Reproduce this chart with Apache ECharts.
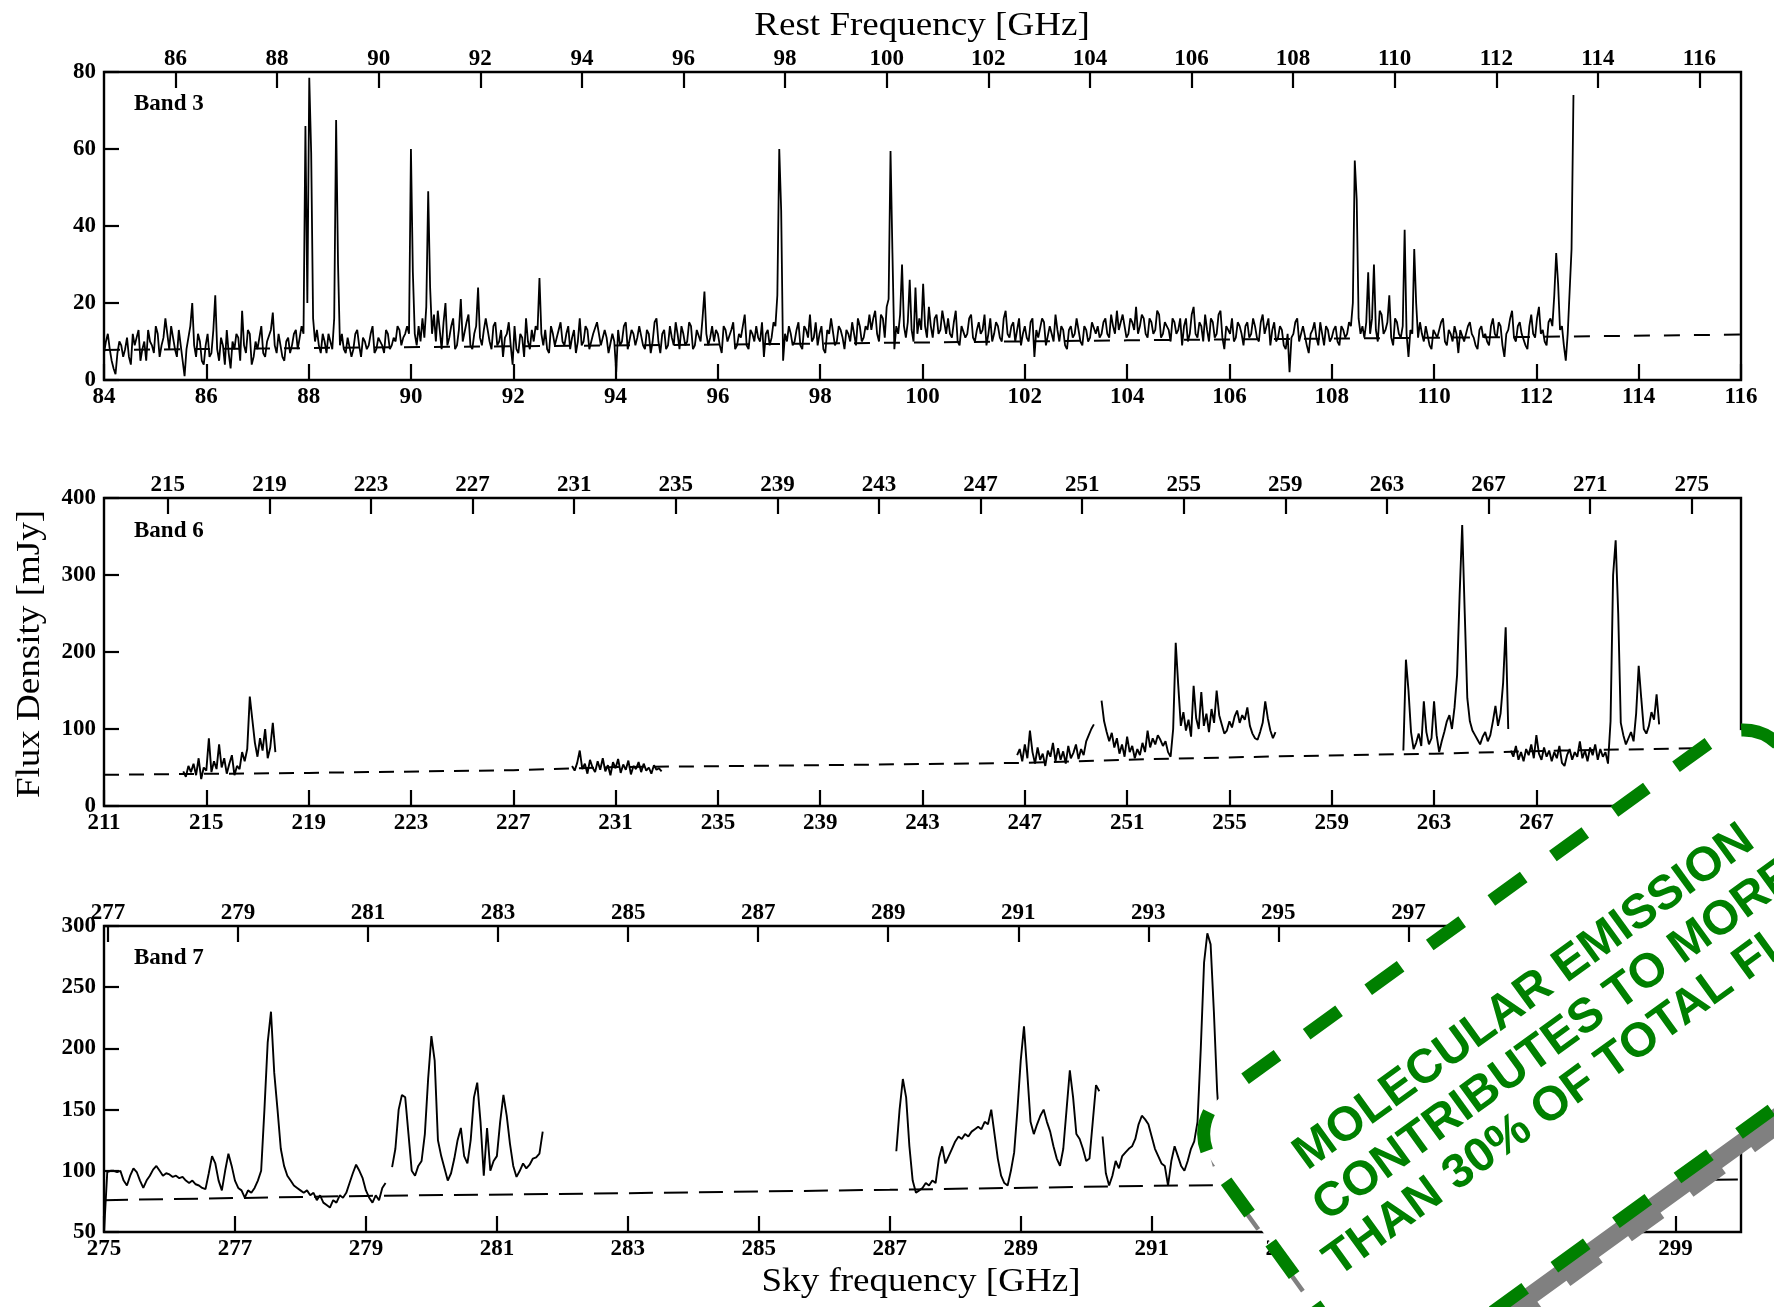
<!DOCTYPE html>
<html>
<head>
<meta charset="utf-8">
<title>ALMA spectra</title>
<script src="https://cdn.jsdelivr.net/npm/echarts@6/dist/echarts.min.js"></script>
<style>
  html, body { margin: 0; padding: 0; background: #ffffff; }
  #chart { width: 1774px; height: 1307px; }
</style>
</head>
<body>
<div id="chart"></div>
<script>
// Redshift used to map sky frequency onto rest frequency (top axes)
const REDSHIFT = 0.00705;

// ---------- Band 3: one continuous spectrum, channel spacing 0.0375 GHz ----------
const band3Start = 84.0;
const band3Step = 0.0375;
const band3Flux = [
  7, 10, 12, 8, 5, 3, 1.5, 7, 10, 9, 6, 8, 11, 6, 4, 12, 9, 11, 13, 5, 8, 10, 5, 13, 10, 9, 7, 14, 12, 6, 9, 11, 16, 12, 8, 14, 11, 8, 6, 13,
  9, 5, 1, 8, 11, 14, 20, 9, 6, 12, 10, 5, 4, 9, 12, 6, 7, 13, 22, 8, 5, 11, 9, 4, 13, 7, 3, 10, 8, 12, 11, 5, 18, 9, 7, 13, 12, 4, 6, 10,
  8, 11, 14, 7, 6, 10, 10, 13, 17.5, 9, 7, 12, 12, 6, 5, 10, 11, 7, 9, 12, 13, 8, 8, 14, 12, 66, 20, 78.5, 59, 16, 10, 13, 9, 7, 12, 10, 7, 12, 10, 8,
  16, 67.5, 30, 9, 12, 8, 7, 11, 11, 6, 8, 12, 13, 9, 6, 11, 10, 8, 9, 12, 14, 7, 8, 11, 11, 9, 7, 13, 12, 8, 9, 11, 10, 14, 13, 9, 11, 12, 14, 12,
  60, 28, 12, 9, 14, 10, 16, 11, 19, 49, 24, 12, 17, 10, 18, 13, 8, 15, 20, 9, 11, 14, 16, 8, 9, 13, 21, 10, 10, 15, 17, 9, 8, 12, 14, 24, 11, 9, 13, 16,
  13, 10, 8, 14, 15, 9, 10, 13, 6, 11, 12, 15, 9, 4, 14, 8, 7, 12, 11, 6, 16, 10, 8, 13, 10, 14, 13, 26.5, 12, 9, 13, 8, 7, 14, 12, 9, 9, 13, 15, 10,
  9, 12, 14, 8, 11, 13, 7, 10, 16, 9, 10, 14, 13, 8, 8, 12, 12, 15, 15, 9, 9, 13, 11, 7, 7, 12, 10, 2, 13, 9, 10, 14, 15, 8, 8, 13, 12, 9, 11, 14,
  14, 9, 8, 13, 12, 7, 10, 15, 16, 10, 7, 12, 13, 8, 9, 14, 11, 9, 15, 12, 8, 14, 12, 9, 10, 15, 14, 8, 9, 13, 13, 10, 16, 23, 12, 9, 11, 14, 10, 13,
  12, 9, 7, 14, 13, 10, 10, 13, 15, 8, 9, 12, 11, 14, 17, 9, 8, 13, 12, 10, 14, 11, 10, 15, 6, 12, 13, 9, 11, 15, 14, 22, 60, 44, 5, 12, 10, 14, 12, 9,
  10, 13, 15, 9, 8, 14, 13, 11, 17, 10, 11, 15, 9, 12, 14, 8, 7, 13, 12, 16, 16, 9, 10, 14, 13, 11, 8, 13, 12, 10, 15, 12, 9, 16, 14, 10, 11, 14, 13, 17,
  13, 16, 18, 12, 10, 17, 16, 11, 19, 21, 59.5, 33, 8, 14, 12, 17, 30, 14, 11, 15, 26, 13, 10, 24, 12, 16, 13, 25, 14, 11, 19, 14, 11, 16, 17, 12, 13, 18, 15, 12,
  16, 12, 11, 15, 18, 10, 9, 14, 14, 11, 12, 16, 17, 11, 10, 13, 15, 12, 13, 17, 9, 12, 16, 10, 12, 15, 14, 11, 10, 16, 18, 12, 11, 14, 15, 10, 13, 16, 9, 12,
  14, 11, 10, 15, 16, 6, 13, 11, 11, 16, 15, 9, 9, 14, 12, 10, 17, 13, 10, 14, 13, 9, 8, 13, 14, 11, 12, 16, 16, 10, 9, 14, 13, 10, 11, 15, 15, 12, 14, 11,
  12, 15, 16, 12, 11, 17, 14, 12, 18, 13, 13, 17, 17, 11, 12, 16, 15, 13, 19, 12, 14, 17, 16, 12, 11, 16, 15, 12, 13, 18, 17, 11, 12, 15, 14, 13, 10, 16, 15, 12,
  13, 16, 9, 14, 16, 10, 12, 17, 19, 12, 11, 15, 14, 10, 17, 13, 10, 16, 15, 11, 12, 17, 18, 11, 8, 14, 13, 12, 16, 10, 11, 15, 14, 12, 9, 14, 15, 11, 12, 16,
  14, 11, 10, 15, 17, 12, 12, 16, 9, 13, 15, 10, 11, 14, 13, 9, 8, 12, 2, 11, 12, 15, 16, 10, 10, 14, 14, 9, 7, 12, 13, 15, 11, 9, 15, 12, 9, 14, 13, 10,
  11, 13, 14, 10, 9, 14, 13, 11, 12, 15, 14, 20, 57, 47, 16, 12, 14, 11, 15, 28, 12, 16, 30, 13, 10, 18, 17, 12, 13, 15, 22, 11, 9, 16, 15, 12, 11, 14, 39, 12,
  6, 13, 12, 34, 20, 11, 15, 12, 10, 14, 14, 9, 8, 13, 13, 11, 11, 15, 16, 10, 9, 13, 12, 10, 14, 12, 7, 13, 13, 10, 10, 14, 15, 12, 11, 9, 8, 13, 14, 11,
  12, 10, 9, 14, 16, 12, 11, 15, 14, 9, 6, 12, 13, 16, 18, 11, 10, 14, 15, 12, 12, 9, 8, 14, 17, 12, 11, 16, 19, 12, 13, 10, 9, 15, 16, 14, 22, 33, 25, 13,
  14, 9, 5, 12, 23, 34, 74
];
const band3ContFreq = [84, 88, 96, 104, 112, 116];
const band3ContFlux = [7.8, 8.3, 9.2, 10.3, 11.2, 11.8];

// ---------- Band 6: six spectral windows, channel spacing 0.1 GHz ----------
const band6Step = 0.1;
const band6Starts = [214.1, 229.3, 246.7, 250.0, 261.8, 266.0];
const band6FluxA = [45, 38, 52, 44, 55, 40, 62, 35, 50, 46, 88, 44, 58, 48, 80, 50, 62, 42, 55, 66,
  40, 52, 48, 70, 58, 74, 142, 112, 82, 64, 88, 72, 100, 62, 76, 108, 70];
const band6FluxB = [52, 46, 56, 72, 48, 55, 42, 60, 50, 44, 58, 47, 62, 45, 53, 40, 57, 49, 61, 43,
  54, 47, 59, 41, 52, 48, 57, 44, 55, 46, 50, 42, 53, 47, 49, 45];
const band6FluxC = [66, 74, 58, 80, 62, 98, 70, 55, 76, 60, 68, 52, 72, 64, 82, 58, 75, 60, 71, 55,
  78, 62, 69, 80, 61, 74, 66, 84, 92, 100, 106];
const band6FluxD = [137, 110, 96, 84, 95, 76, 88, 68, 80, 64, 90, 70, 78, 62, 74, 66, 82, 70, 98, 76,
  88, 80, 92, 86, 78, 84, 70, 64, 100, 212, 156, 104, 122, 98, 112, 90, 156, 114, 100, 148,
  104, 120, 96, 126, 108, 150, 118, 106, 94, 98, 110, 102, 116, 124, 108, 118, 112, 128, 104, 94,
  88, 86, 96, 108, 136, 114, 98, 88, 96];
const band6FluxE = [72, 190, 150, 96, 74, 82, 94, 78, 136, 96, 80, 88, 136, 92, 70, 84, 96, 110, 118, 100,
  128, 170, 275, 365, 250, 140, 110, 98, 92, 86, 80, 90, 96, 84, 92, 110, 130, 104, 120, 160,
  232, 100];
const band6FluxF = [72, 64, 78, 60, 70, 58, 74, 66, 80, 62, 92, 68, 60, 76, 64, 72, 58, 70, 62, 78,
  56, 52, 66, 74, 60, 70, 64, 84, 62, 72, 58, 76, 66, 80, 60, 74, 64, 70, 55, 110,
  300, 345, 250, 108, 92, 80, 88, 96, 84, 120, 182, 140, 100, 94, 104, 122, 112, 145, 106];
const band6ContFreq = [211, 219, 227, 231, 239, 247, 252, 257, 263, 268, 275];
const band6ContFlux = [40.5, 43, 46.5, 50.5, 53, 56, 61, 64.5, 68, 72, 76];

// ---------- Band 7: four spectral windows, channel spacing 0.05 GHz ----------
const band7Step = 0.05;
const band7Starts = [275.0, 279.4, 287.1, 290.25];
const band7FluxA = [50, 99, 100, 100, 99, 100, 92, 88, 96, 102, 99, 92, 86, 92, 96, 101, 104, 100, 96, 98,
  97, 95, 96, 94, 95, 92, 90, 92, 89, 88, 86, 85, 98, 112, 106, 92, 84, 100, 114, 104,
  92, 86, 84, 78, 84, 82, 86, 92, 100, 150, 205, 230, 180, 150, 118, 104, 96, 92, 88, 86,
  84, 82, 84, 80, 82, 76, 80, 74, 72, 70, 76, 74, 80, 78, 82, 90, 98, 105, 100, 94,
  84, 78, 74, 80, 76, 86, 90];
const band7FluxB = [103, 118, 150, 162, 160, 130, 100, 96, 104, 108, 130, 175, 210, 190, 125, 112, 102, 92, 98, 110,
  125, 135, 112, 106, 125, 160, 172, 140, 96, 135, 100, 108, 112, 140, 162, 145, 122, 104, 95, 100,
  106, 102, 105, 110, 111, 114, 132];
const band7FluxC = [116, 150, 175, 160, 120, 92, 82, 84, 86, 90, 88, 92, 90, 110, 120, 106, 112, 118, 124, 128,
  126, 130, 128, 132, 134, 136, 134, 140, 138, 150, 130, 110, 96, 90, 88, 100, 115, 150, 190, 218,
  180, 140, 130, 138, 145, 150, 140, 132, 120, 110, 104, 118, 150, 182, 160, 130, 126, 118, 108, 110,
  140, 170, 165];
const band7FluxD = [128, 98, 88, 96, 108, 102, 112, 115, 118, 120, 126, 138, 145, 142, 138, 128, 118, 112, 106, 104,
  88, 108, 120, 112, 104, 100, 108, 118, 124, 140, 200, 270, 294, 285, 230, 165, 125, 108, 100, 98,
  96, 98, 95, 96];
const band7ContFreq = [275, 279, 283, 287, 291, 295, 300];
const band7ContFlux = [76, 79.5, 81.7, 84.5, 87.7, 90, 93];

// ---------- Axis ranges and tick labels ----------
const skyRanges = [[84, 116], [211, 275], [275, 300]];
const fluxRanges = [[0, 80, 20], [0, 400, 100], [50, 300, 50]];
const skyTicks3 = [84, 86, 88, 90, 92, 94, 96, 98, 100, 102, 104, 106, 108, 110, 112, 114, 116];
const restTicks3 = [86, 88, 90, 92, 94, 96, 98, 100, 102, 104, 106, 108, 110, 112, 114, 116];
const skyTicks6 = [211, 215, 219, 223, 227, 231, 235, 239, 243, 247, 251, 255, 259, 263, 267, 271, 275];
const restTicks6 = [215, 219, 223, 227, 231, 235, 239, 243, 247, 251, 255, 259, 263, 267, 271, 275];
const skyTicks7 = [275, 277, 279, 281, 283, 285, 287, 289, 291, 293, 295, 297, 299];
const restTicks7 = [277, 279, 281, 283, 285, 287, 289, 291, 293, 295, 297, 299, 301];
const bandNames = ['Band 3', 'Band 6', 'Band 7'];

const SERIF = '"Liberation Serif", "Times New Roman", serif';
const SANS = '"Liberation Sans", Arial, Helvetica, sans-serif';

// panel boxes in pixels
const panelLeft = 104, panelRight = 33;
const panelTops = [72, 498, 926];
const panelHeights = [308, 308, 306];

function channels(start, step, flux) {
  return flux.map((v, i) => [+(start + i * step).toFixed(4), v]);
}
function pairs(xs, ys) { return xs.map((x, i) => [x, ys[i]]); }

const grids = panelTops.map((t, i) => ({
  left: panelLeft, right: panelRight, top: t, height: panelHeights[i],
  show: true, borderColor: '#000', borderWidth: 2.4, backgroundColor: 'transparent'
}));

const tickLabelStyle = { color: '#000', fontFamily: SERIF, fontSize: 23, fontWeight: 'bold' };

function xAxisCfg(gridIndex, pos, min, max, ticks) {
  return {
    type: 'value', gridIndex, position: pos, min, max,
    axisLine: { show: false }, splitLine: { show: false },
    axisTick: { show: true, inside: true, length: 16, customValues: ticks,
      lineStyle: { color: '#000', width: 2.2 } },
    axisLabel: Object.assign({ show: true, customValues: ticks, margin: pos === 'top' ? 1 : 6,
      showMinLabel: true, showMaxLabel: true, hideOverlap: false }, tickLabelStyle)
  };
}

const skyTickSets = [skyTicks3, skyTicks6, skyTicks7];
const restTickSets = [restTicks3, restTicks6, restTicks7];
const xAxes = [];
for (let i = 0; i < 3; i++) {
  const [lo, hi] = skyRanges[i];
  xAxes.push(xAxisCfg(i, 'bottom', lo, hi, skyTickSets[i]));
  xAxes.push(xAxisCfg(i, 'top', lo * (1 + REDSHIFT), hi * (1 + REDSHIFT), restTickSets[i]));
}

const yAxes = fluxRanges.map((r, i) => ({
  type: 'value', gridIndex: i, min: r[0], max: r[1], interval: r[2],
  axisLine: { show: false }, splitLine: { show: false },
  axisTick: { show: true, inside: true, length: 15, lineStyle: { color: '#000', width: 2.2 } },
  axisLabel: Object.assign({ margin: 8, showMinLabel: true, showMaxLabel: true }, tickLabelStyle)
}));

function specSeries(axisIdx, data, width) {
  return { type: 'line', xAxisIndex: axisIdx * 2, yAxisIndex: axisIdx, data,
    showSymbol: false, symbol: 'none', lineStyle: { color: '#000', width }, z: 3,
    animation: false, silent: true };
}
function contSeries(axisIdx, data, dash) {
  return { type: 'line', xAxisIndex: axisIdx * 2, yAxisIndex: axisIdx, data,
    showSymbol: false, symbol: 'none', z: 2, animation: false, silent: true,
    lineStyle: { color: '#000', width: 2, type: dash } };
}

const series = [
  contSeries(0, pairs(band3ContFreq, band3ContFlux), [16, 14]),
  specSeries(0, channels(band3Start, band3Step, band3Flux), 1.8),
  contSeries(1, pairs(band6ContFreq, band6ContFlux), [15, 10]),
  ...[band6FluxA, band6FluxB, band6FluxC, band6FluxD, band6FluxE, band6FluxF]
    .map((f, k) => specSeries(1, channels(band6Starts[k], band6Step, f), 1.9)),
  contSeries(2, pairs(band7ContFreq, band7ContFlux), [24, 11]),
  ...[band7FluxA, band7FluxB, band7FluxC, band7FluxD]
    .map((f, k) => specSeries(2, channels(band7Starts[k], band7Step, f), 1.9))
];

function txt(text, x, y, font, extra) {
  return Object.assign({
    type: 'text', x, y, z: 50,
    style: { text, font, fill: '#000', align: 'center', verticalAlign: 'middle',
      textAlign: 'center', textVerticalAlign: 'middle' }
  }, extra || {});
}

const bandLabelY = [104, 531, 958];
const graphics = [
  txt('Rest Frequency [GHz]', 922, 26, '34px ' + SERIF, { scaleX: 1.09 }),
  txt('Sky frequency [GHz]', 921, 1282, '34px ' + SERIF, { scaleX: 1.09 }),
  txt('Flux Density [mJy]', 30, 654, '34px ' + SERIF, { scaleX: 1.09, rotation: Math.PI / 2 })
];
bandNames.forEach((name, i) => {
  graphics.push({
    type: 'text', x: 134, y: bandLabelY[i], z: 50,
    style: { text: name, font: 'bold 23px ' + SERIF, fill: '#000', align: 'left',
      verticalAlign: 'middle', textAlign: 'left', textVerticalAlign: 'middle' }
  });
});

// Rotated stamp note laid over the lower-right corner
const STAMP_ANGLE = 35.9 * Math.PI / 180;
const STAMP_W = 704, STAMP_H = 334, STAMP_R = 50;
const stampLines = ['MOLECULAR EMISSION', 'CONTRIBUTES TO MORE', 'THAN 30% OF TOTAL FLUX'];
const stampLineY = [98, 151, 202];
const stampBorder = { lineWidth: 13, lineDash: [40, 36], lineDashOffset: 50.6 };
const stampChildren = [
  // grey drop shadow, offset towards the lower side of the stamp
  { type: 'rect', z: 99,
    shape: { x: 2, y: 18, width: STAMP_W, height: STAMP_H, r: STAMP_R },
    style: Object.assign({ fill: '#808080', stroke: '#808080' }, stampBorder) },
  { type: 'rect', z: 100,
    shape: { x: 0, y: 0, width: STAMP_W, height: STAMP_H, r: STAMP_R },
    style: Object.assign({ fill: '#ffffff', stroke: '#008000' }, stampBorder) }
];
stampLines.forEach((line, i) => {
  stampChildren.push({
    type: 'text', x: 349, y: stampLineY[i], z: 101,
    style: { text: line, font: 'bold 48px ' + SANS, fill: '#008000', align: 'center',
      verticalAlign: 'middle', textAlign: 'center', textVerticalAlign: 'middle' }
  });
});
graphics.push({ type: 'group', x: 1184, y: 1123, rotation: STAMP_ANGLE, z: 100,
  children: stampChildren });

const chart = echarts.init(document.getElementById('chart'), null, { renderer: 'canvas' });
chart.setOption({
  animation: false,
  backgroundColor: '#ffffff',
  textStyle: { fontFamily: SERIF },
  grid: grids,
  xAxis: xAxes,
  yAxis: yAxes,
  series,
  graphic: { elements: graphics }
});
</script>
</body>
</html>
